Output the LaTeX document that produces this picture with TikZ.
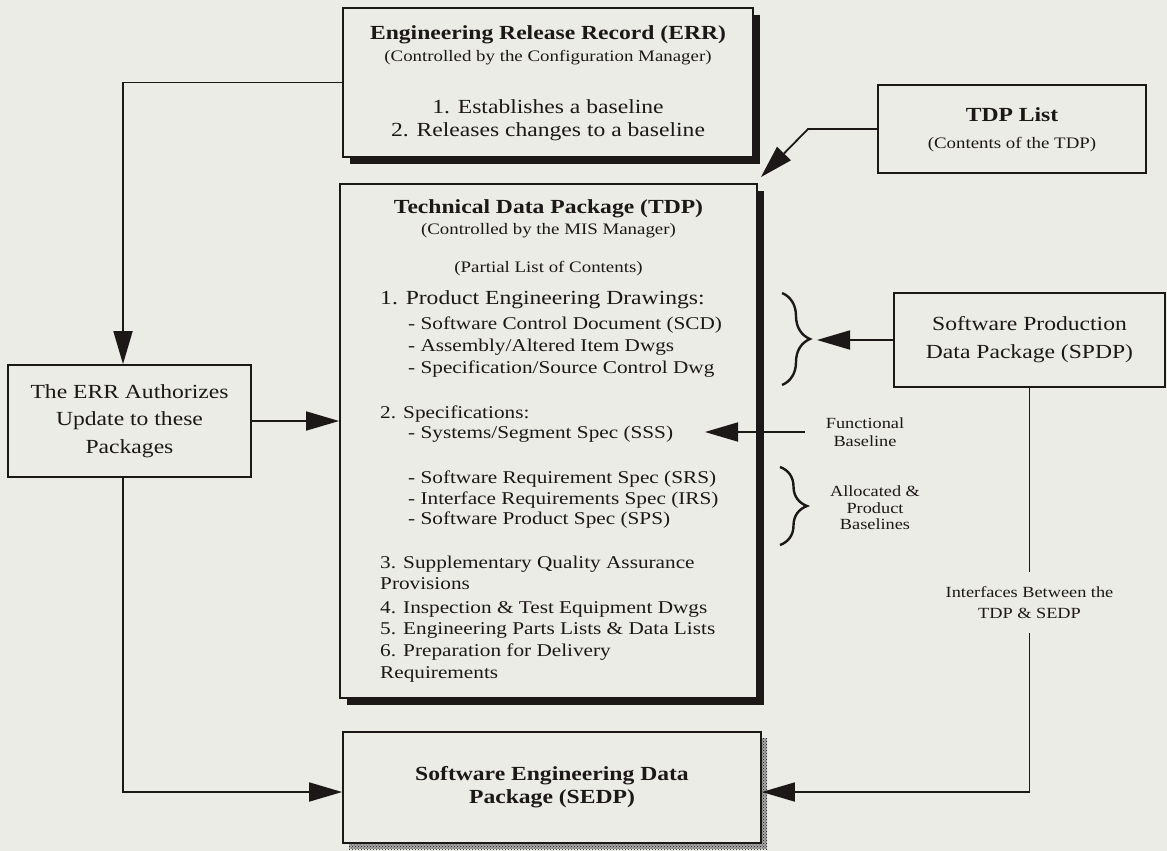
\documentclass[tikz,border=0pt]{standalone}
\usepackage{fontspec}
\setmainfont{Liberation Serif}[FakeStretch=1.18]
\usetikzlibrary{arrows.meta,shadows,decorations.pathreplacing,patterns}
\definecolor{paper}{RGB}{236,236,231}
\definecolor{ink}{RGB}{28,24,24}

\begin{document}
\begin{tikzpicture}[x=1pt,y=-1pt,color=ink,
  >={Triangle[length=33pt,width=19pt]},
  line/.style={draw=ink, line width=1.8pt},
  box/.style={draw=ink, line width=1.8pt, fill=paper, inner sep=0pt},
  heavybox/.style={box, drop shadow={shadow xshift=7pt, shadow yshift=-7pt, fill=ink, opacity=1}},
  titletext/.style={font=\bfseries\fontsize{20}{24}\selectfont, inner sep=0pt, anchor=base},
  subtext/.style={font=\fontsize{16}{19}\selectfont, inner sep=0pt, anchor=base},
  bodytext/.style={font=\fontsize{20}{24}\selectfont, inner sep=0pt, anchor=base},
  item/.style={font=\fontsize{18}{22}\selectfont, inner sep=0pt, anchor=base west},
  note/.style={font=\fontsize{15.5}{18}\selectfont, align=center, inner sep=1pt},
  bracemark/.style={draw=ink, line width=2.4pt, decorate, decoration={brace, amplitude=28pt}}
]
\useasboundingbox (0,0) rectangle (1167,851);
\fill[paper] (0,0) rectangle (1167,851);

% ---- boxes ----
\node[heavybox, minimum width=410pt, minimum height=149pt] (err) at (548,82.5) {};
\node[heavybox, minimum width=417pt, minimum height=514pt] (tdp) at (548.5,441) {};
\node[box, minimum width=268pt, minimum height=88pt] (tdpl) at (1012,129) {};
\node[box, minimum width=243pt, minimum height=112pt, align=center,
      font=\fontsize{20}{27.5}\selectfont] (auth) at (129.5,421)
      {The ERR Authorizes\\Update to these\\Packages};
\node[box, minimum width=271pt, minimum height=94pt, align=center,
      font=\fontsize{20}{28}\selectfont] (spdp) at (1029.5,340)
      {Software Production\\Data Package (SPDP)};
% stippled shadow of the SEDP box
\fill[gray!70] (349,738) rectangle (767,849);
\fill[pattern=crosshatch dots, pattern color=ink] (349,738) rectangle (767,849);
\node[box, minimum width=418pt, minimum height=111pt, align=center,
      font=\bfseries\fontsize{20}{23}\selectfont]
      (sedp) at (552,787.5) {Software Engineering Data\\Package (SEDP)};

% ---- ERR text ----
\node[titletext] (errt) at (548,39.5) {Engineering Release Record (ERR)};
\node[subtext] (errc) at (548,62) {(Controlled by the Configuration Manager)};
\node[bodytext] (err1) at (548,113.5) {1. Establishes a baseline};
\node[bodytext] (err2) at (548,136.5) {2. Releases changes to a baseline};

% ---- TDP list text ----
\node[titletext] (tdplt) at (1012,121.5) {TDP List};
\node[subtext] (tdplc) at (1012,148) {(Contents of the TDP)};

% ---- TDP contents ----
\node[titletext] (tdpt) at (548.5,213.5) {Technical Data Package (TDP)};
\node[subtext] (tdpc) at (548.5,234) {(Controlled by the MIS Manager)};
\node[subtext] (tdpp) at (548.5,272) {(Partial List of Contents)};
\node[item, font=\fontsize{20}{24}\selectfont] (it0) at (380,304.5) {1. Product Engineering Drawings:};
\foreach \yy/\xx/\txt [count=\i] in {
  329/408/{- Software Control Document (SCD)},
  351/408/{- Assembly/Altered Item Dwgs},
  373/408/{- Specification/Source Control Dwg},
  418/380/{2. Specifications:},
  438/408/{- Systems/Segment Spec (SSS)},
  483/408/{- Software Requirement Spec (SRS)},
  504/408/{- Interface Requirements Spec (IRS)},
  524/408/{- Software Product Spec (SPS)},
  568/380/{3. Supplementary Quality Assurance},
  589/380/{Provisions},
  613/380/{4. Inspection \& Test Equipment Dwgs},
  634/380/{5. Engineering Parts Lists \& Data Lists},
  656/380/{6. Preparation for Delivery},
  678/380/{Requirements}}
  \node[item] (it\i) at (\xx,\yy) {\txt};

% ---- braces and baseline labels ----
\draw[bracemark] (782,293) -- (782,385);
\draw[bracemark, decoration={brace, amplitude=27pt}] (780,467) -- (780,545);
\node[note] (fbl) at (865,432.5) {Functional\\Baseline};
\node[note, font=\fontsize{15.5}{16.5}\selectfont] (alb) at (875,508) {Allocated \&\\Product\\Baselines};

% ---- connectors ----
\draw[line,->] (err.west) -| ([xshift=-6.5pt]auth.north);
\draw[line,->] (auth.east) -- (auth.east -| tdp.west);
\draw[line,->] ([xshift=-6.5pt]auth.south) |- ([yshift=-4.5pt]sedp.west);
\coordinate (tbend) at (808,129);
\draw[line,->] (tdpl.west) -- (tbend) -- ([shift={(3pt,6pt)}]tdp.north east);
\coordinate (brtip) at (817,340);
\draw[line,->] (spdp.west) -- (brtip);
\coordinate (fbs) at (805,432);
\coordinate (fbe) at (705,432);
\draw[line,->] (fbs) -- (fbe);
\draw[line,->] (spdp.south) |- ([yshift=-4.5pt]sedp.east);
\node[note, fill=paper, inner ysep=14pt, font=\fontsize{15.5}{21.5}\selectfont] (ifc) at (1029.5,602.5)
  {Interfaces Between the\\TDP \& SEDP};
\end{tikzpicture}
\end{document}
